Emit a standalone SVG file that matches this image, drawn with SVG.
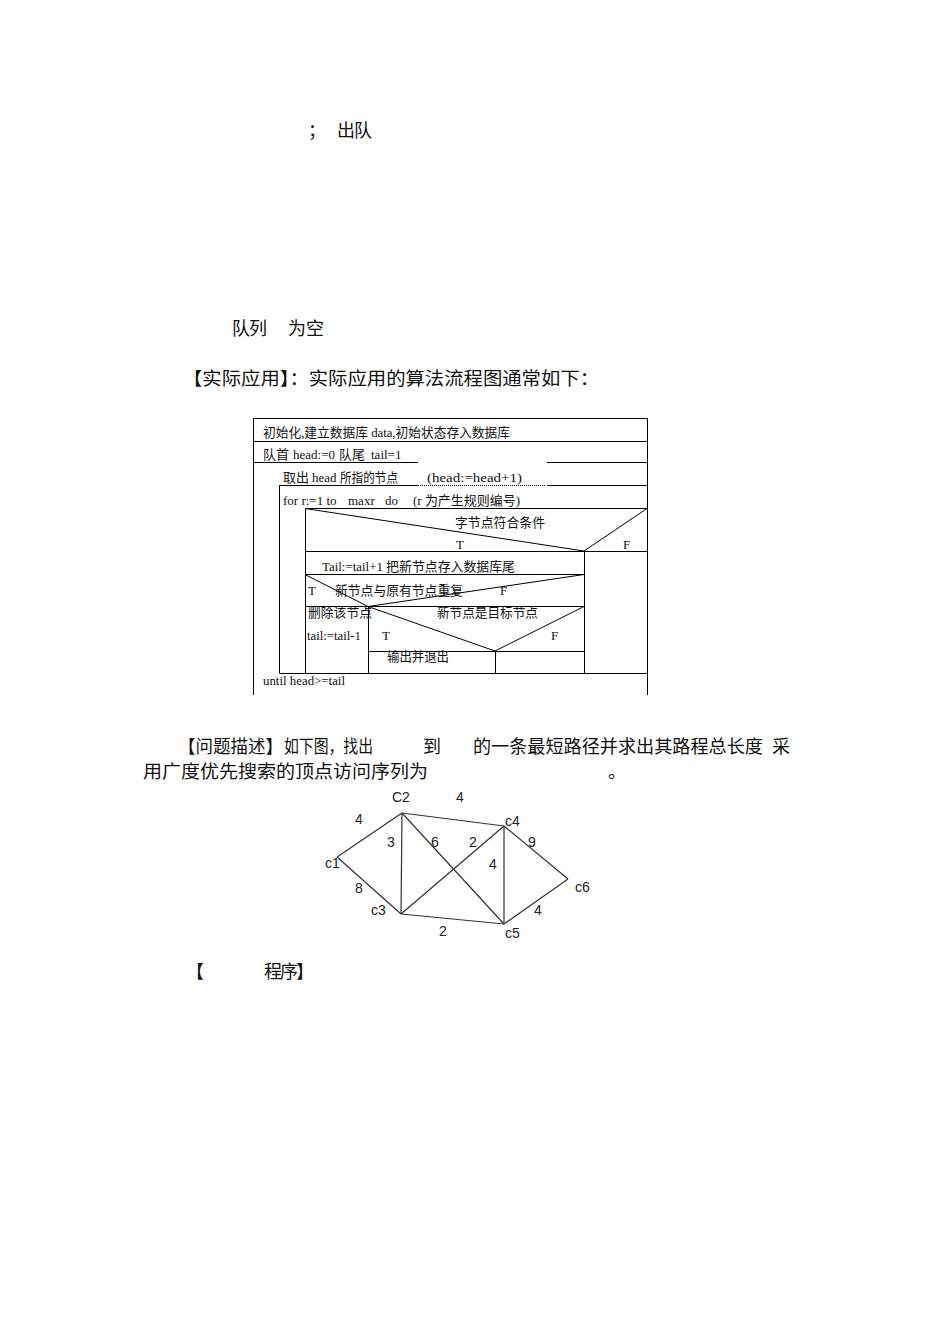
<svg xmlns="http://www.w3.org/2000/svg" width="950" height="1344" viewBox="0 0 950 1344">
<style>
.body{font-family:"Liberation Serif","Noto Sans CJK SC",serif;font-size:18px;fill:#111}
.sm{font-family:"Liberation Serif","Noto Sans CJK SC",serif;font-size:13px;fill:#111}
.ln{stroke:#000;stroke-width:1;fill:none}
.dot{stroke:#000;stroke-width:1;stroke-dasharray:1 1;fill:none}
.edge{stroke:#333;stroke-width:1.2;fill:none}
.gl{font-family:"Liberation Sans",Arial,sans-serif;font-size:14px;fill:#222}
</style>
<rect width="950" height="1344" fill="#fff"/>
<g id="text-top">
<text class="body" x="308" y="137">；</text>
<text class="body" x="337" y="137" textLength="35">出队</text>
<text class="body" x="232" y="335" textLength="35">队列</text>
<text class="body" x="288" y="335" textLength="36">为空</text>
<text class="body" x="183" y="385" textLength="416" lengthAdjust="spacingAndGlyphs">【实际应用】：实际应用的算法流程图通常如下：</text>
</g>
<g id="structogram">
<g id="frame">
<path class="ln" d="M253.5 695V418.5H647.5V695"/>
<path class="ln" d="M253 441.5H648"/>
<path class="ln" d="M253 462.5H418M547 462.5H648"/>
<path class="ln" d="M279 485.5H418M547 485.5H648"/>
<path class="dot" d="M418 485.5H546"/>
<path class="ln" d="M279.5 485V673.5H648"/>
</g>
<g id="row-init">
<text class="sm" x="263" y="437" textLength="247" lengthAdjust="spacingAndGlyphs">初始化,建立数据库 data,初始状态存入数据库</text>
<text class="sm" x="263" y="459">队首</text>
<text class="sm" x="293" y="459">head:=0</text>
<text class="sm" x="339" y="459">队尾</text>
<text class="sm" x="371" y="459">tail=1</text>
<text class="sm" x="283" y="482">取出</text>
<text class="sm" x="312" y="482">head</text>
<text class="sm" x="340" y="482" textLength="58" lengthAdjust="spacingAndGlyphs">所指的节点</text>
<text class="sm" x="427" y="482" textLength="95" lengthAdjust="spacingAndGlyphs">(head:=head+1)</text>
</g>
<g id="loop-for">
<text class="sm" x="283" y="505">for r:=1 to</text>
<text class="sm" x="348" y="505">maxr</text>
<text class="sm" x="385" y="505">do</text>
<text class="sm" x="413" y="505" textLength="107" lengthAdjust="spacingAndGlyphs">(r 为产生规则编号)</text>
<path class="ln" d="M305 508.5H648M305.5 508V673"/>
</g>
<g id="decision-1">
<path class="ln" d="M305 508.5L584 551L647 508.5M305 551.5H648M584.5 551V673"/>
<text class="sm" x="455" y="527" textLength="90" lengthAdjust="spacingAndGlyphs">字节点符合条件</text>
<text class="sm" x="456" y="549">T</text>
<text class="sm" x="623" y="549">F</text>
</g>
<g id="row-tail">
<text class="sm" x="322" y="571" textLength="193" lengthAdjust="spacingAndGlyphs">Tail:=tail+1  把新节点存入数据库尾</text>
<path class="ln" d="M305 574.5H584"/>
</g>
<g id="decision-2">
<path class="ln" d="M305 574.5L368 606.5L584 574.5M305 606.5H584M368.5 606V673"/>
<text class="sm" x="308" y="595">T</text>
<text class="sm" x="335" y="595" textLength="128" lengthAdjust="spacingAndGlyphs">新节点与原有节点重复</text>
<text class="sm" x="500" y="595">F</text>
<text class="sm" x="308" y="617" textLength="64" lengthAdjust="spacingAndGlyphs">删除该节点</text>
<text class="sm" x="307" y="640" textLength="54" lengthAdjust="spacingAndGlyphs">tail:=tail-1</text>
</g>
<g id="decision-3">
<path class="ln" d="M368 606.5L495 651L584 606.5M368 651.5H584M495.5 651V673"/>
<text class="sm" x="437" y="617" textLength="101" lengthAdjust="spacingAndGlyphs">新节点是目标节点</text>
<text class="sm" x="382" y="640">T</text>
<text class="sm" x="551" y="640">F</text>
<text class="sm" x="387" y="661" textLength="62" lengthAdjust="spacingAndGlyphs">输出并退出</text>
</g>
<g id="row-until">
<text class="sm" x="263" y="685" textLength="82" lengthAdjust="spacingAndGlyphs">until head&gt;=tail</text>
</g>
</g>
<g id="text-question">
<text class="body" x="178" y="753" textLength="105" lengthAdjust="spacingAndGlyphs">【问题描述】</text>
<text class="body" x="284" y="753" textLength="89" lengthAdjust="spacingAndGlyphs">如下图，找出</text>
<text class="body" x="423" y="753">到</text>
<text class="body" x="473" y="753" textLength="290" lengthAdjust="spacingAndGlyphs">的一条最短路径并求出其路程总长度</text>
<text class="body" x="772" y="753">采</text>
<text class="body" x="143" y="778" textLength="285" lengthAdjust="spacingAndGlyphs">用广度优先搜索的顶点访问序列为</text>
<text class="body" x="608" y="778">。</text>
</g>
<g id="connectors">
<line class="edge" x1="337" y1="857" x2="402" y2="813"/>
<line class="edge" x1="337" y1="857" x2="401" y2="914"/>
<line class="edge" x1="402" y1="813" x2="401" y2="914"/>
<line class="edge" x1="402" y1="813" x2="504" y2="826"/>
<line class="edge" x1="402" y1="813" x2="504" y2="924"/>
<line class="edge" x1="401" y1="914" x2="504" y2="826"/>
<line class="edge" x1="401" y1="914" x2="504" y2="924"/>
<line class="edge" x1="504" y1="826" x2="504" y2="924"/>
<line class="edge" x1="504" y1="826" x2="568" y2="879"/>
<line class="edge" x1="504" y1="924" x2="568" y2="879"/>
<text class="gl" x="355" y="824">4</text>
<text class="gl" x="456" y="802">4</text>
<text class="gl" x="387" y="847">3</text>
<text class="gl" x="431" y="847">6</text>
<text class="gl" x="469" y="847">2</text>
<text class="gl" x="528" y="847">9</text>
<text class="gl" x="489" y="869">4</text>
<text class="gl" x="355" y="893">8</text>
<text class="gl" x="534" y="915">4</text>
<text class="gl" x="439" y="936">2</text>
</g>
<g id="node-c1"><text class="gl" x="325" y="868">c1</text></g>
<g id="node-c2"><text class="gl" x="392" y="802">C2</text></g>
<g id="node-c3"><text class="gl" x="371" y="915">c3</text></g>
<g id="node-c4"><text class="gl" x="505" y="826">c4</text></g>
<g id="node-c5"><text class="gl" x="505" y="938">c5</text></g>
<g id="node-c6"><text class="gl" x="575" y="892">c6</text></g>
<g id="text-program">
<text class="body" x="186" y="978">【</text>
<text class="body" x="264" y="978" textLength="50">程序】</text>
</g>
</svg>
